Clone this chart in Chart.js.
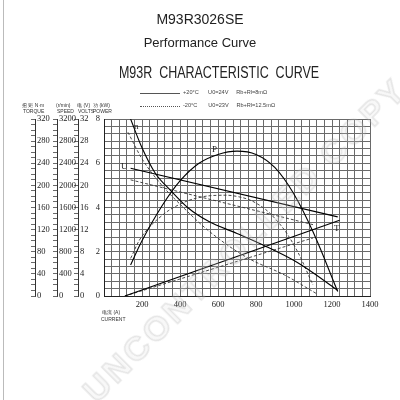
<!DOCTYPE html>
<html>
<head>
<meta charset="utf-8">
<script src="https://cdn.jsdelivr.net/npm/chart.js@4.4.1/dist/chart.umd.min.js"></script>
<style>
  body { margin: 0; background: #fff; }
  #wrap { position: relative; width: 400px; height: 400px; overflow: hidden; font-family: "Liberation Sans", Arial, sans-serif; color: #222; }
  #chart { position: absolute; left: 0; top: 0; }
  .t { position: absolute; white-space: nowrap; }
  .tiny { font-size: 5px; line-height: 6px; color: #333; }
  .note { font-size: 5.6px; line-height: 7px; color: #444; }
  .lbl { font-family: "Liberation Serif", serif; font-size: 9px; color: #222; }
  .leg { position: absolute; left: 140px; width: 40px; height: 0; }
  #head { position: absolute; left: 19px; width: 400px; top: 64px; text-align: center; font-size: 16px; transform: scaleX(0.78); transform-origin: 200px 0; white-space: nowrap; }
  #mark { position: absolute; left: 245px; top: 240px; transform: translate(-50%, -50%) rotate(-45deg);
          font: bold 34px "Liberation Sans", Arial, sans-serif; letter-spacing: 3px; color: rgba(220,220,220,0.2);
          -webkit-text-stroke: 1.5px rgba(160,160,160,0.25); filter: blur(0.7px); white-space: nowrap; }
  #frame { position: absolute; left: 3px; top: 0; width: 1px; height: 400px; background: #bbb; }
</style>
</head>
<body>
<div id="wrap">
  <canvas id="chart" width="400" height="400"></canvas>
  <div id="frame"></div>

  <div class="t" style="left:0;width:400px;text-align:center;top:11px;font-size:14px">M93R3026SE</div>
  <div class="t" style="left:0;width:400px;text-align:center;top:35px;font-size:13px">Performance Curve</div>
  <div id="head">M93R&nbsp; CHARACTERISTIC&nbsp; CURVE</div>

  <div class="leg" style="top:93px;border-top:1px solid #555"></div>
  <div class="t note" style="left:183px;top:89px">+20°C&nbsp;&nbsp;&nbsp;&nbsp;&nbsp; U0=24V&nbsp;&nbsp;&nbsp;&nbsp; Rb+Rl=8mΩ</div>
  <div class="leg" style="top:106px;border-top:1px dotted #555"></div>
  <div class="t note" style="left:183px;top:102px">-20°C&nbsp;&nbsp;&nbsp;&nbsp;&nbsp;&nbsp; U0=23V&nbsp;&nbsp;&nbsp;&nbsp; Rb+Rl=12.5mΩ</div>

  <div class="t tiny" style="left:22px;top:102px">扭 矩 N·m</div>
  <div class="t tiny" style="left:23px;top:108px">TORQUE</div>
  <div class="t tiny" style="left:56px;top:102px">(r/min)</div>
  <div class="t tiny" style="left:57px;top:108px">SPEED</div>
  <div class="t tiny" style="left:77px;top:102px">电 (V)</div>
  <div class="t tiny" style="left:78px;top:108px">VOLTS</div>
  <div class="t tiny" style="left:93px;top:102px">功 (kW)</div>
  <div class="t tiny" style="left:93px;top:108px">POWER</div>
  <div class="t tiny" style="left:102px;top:309px">电流 (A)</div>
  <div class="t tiny" style="left:101px;top:316px">CURRENT</div>

  <div class="t lbl" style="left:134px;top:121px">n</div>
  <div class="t lbl" style="left:121px;top:161px">U</div>
  <div class="t lbl" style="left:212px;top:144px">P</div>
  <div class="t lbl" style="left:334px;top:223px">T</div>

  <div id="mark">UNCONTROLLED COPY</div>
</div>

<script>
// current (A) on the x axis, readings per curve
const currentN = [140, 200, 270, 350, 440, 550, 700, 850, 1000, 1100, 1230];
const speedSolid = [3200, 2680, 2220, 1910, 1600, 1350, 1130, 900, 640, 420, 100];
const currentNd = [126, 200, 300, 400, 550, 750, 950, 1120];
const speedDashed = [2960, 2480, 2020, 1660, 1180, 700, 380, 40];

const currentP = [140, 200, 300, 400, 500, 600, 700, 800, 900, 1000, 1100, 1230];
const powerSolid = [1.4, 2.5, 4.0, 5.2, 6.0, 6.4, 6.55, 6.4, 5.8, 4.6, 2.9, 0.2];
const currentPd = [140, 200, 300, 400, 500, 600, 700, 800, 900, 1000, 1100];
const powerDashed = [1.7, 2.7, 3.6, 4.15, 4.45, 4.55, 4.5, 4.2, 3.5, 2.3, 0.5];

const currentU = [140, 1230];
const voltSolid = [23.1, 14.3];
const currentUd = [140, 1100];
const voltDashed = [21.0, 12.9];

const currentT = [110, 1240];
const torqueSolid = [0, 137];
const currentTd = [110, 1100];
const torqueDashed = [0, 105];

function pts(xs, ys) {
  return xs.map((x, i) => ({ x: x, y: ys[i] }));
}
function steps(min, max, step) {
  const out = [];
  for (let i = 0; min + i * step <= max + 1e-9; i++) out.push({ value: min + i * step });
  return out;
}

const solid = { borderColor: '#000', borderWidth: 1.1, pointRadius: 0 };
const dashed = { borderColor: '#333', borderWidth: 0.9, borderDash: [3, 2], pointRadius: 0 };
const serif = { family: 'Liberation Serif', size: 8.5 };

function sideAxis(weight, max, step, every, width) {
  return {
    type: 'linear', position: 'left', weight: weight, min: 0, max: max,
    afterBuildTicks: s => { s.ticks = steps(0, max, step); },
    afterFit: s => { s.width = width; },
    grid: { drawOnChartArea: false, tickLength: 4, color: '#444', lineWidth: 0.8 },
    border: { color: '#333', width: 1 },
    ticks: { mirror: true, padding: 2, autoSkip: false, color: '#222', font: serif,
             callback: v => (Math.round(v) % every === 0 ? Math.round(v) : '') }
  };
}

new Chart(document.getElementById('chart'), {
  type: 'line',
  data: {
    datasets: [
      Object.assign({ data: pts(currentN, speedSolid), yAxisID: 'yN', cubicInterpolationMode: 'monotone' }, solid),
      Object.assign({ data: pts(currentNd, speedDashed), yAxisID: 'yN', cubicInterpolationMode: 'monotone' }, dashed),
      Object.assign({ data: pts(currentP, powerSolid), yAxisID: 'yP', tension: 0.4 }, solid),
      Object.assign({ data: pts(currentPd, powerDashed), yAxisID: 'yP', tension: 0.4 }, dashed),
      Object.assign({ data: pts(currentU, voltSolid), yAxisID: 'yU' }, solid),
      Object.assign({ data: pts(currentUd, voltDashed), yAxisID: 'yU' }, dashed),
      Object.assign({ data: pts(currentT, torqueSolid), yAxisID: 'yT' }, solid),
      Object.assign({ data: pts(currentTd, torqueDashed), yAxisID: 'yT' }, dashed)
    ]
  },
  options: {
    responsive: false,
    animation: false,
    devicePixelRatio: 1,
    layout: { padding: { left: 10, top: 119, right: 30, bottom: 84 } },
    plugins: { legend: { display: false }, tooltip: { enabled: false } },
    scales: {
      x: {
        type: 'linear', position: 'bottom', min: 0, max: 1400,
        afterBuildTicks: s => { s.ticks = steps(0, 1400, 40); },
        afterFit: s => { s.height = 20; },
        grid: { color: '#6a6a6a', lineWidth: 1, drawTicks: false },
        border: { color: '#222', width: 1 },
        ticks: { autoSkip: false, maxRotation: 0, padding: 4, color: '#222', font: serif,
                 callback: v => (v > 0 && v % 200 === 0 ? v : '') }
      },
      yP: {
        type: 'linear', position: 'left', weight: 0, min: 0, max: 8,
        afterBuildTicks: s => { s.ticks = steps(0, 8, 1 / 3); },
        afterFit: s => { s.width = 26; },
        grid: { color: '#6a6a6a', lineWidth: 1, drawTicks: false },
        border: { color: '#222', width: 1 },
        ticks: { autoSkip: false, padding: 4, color: '#222', font: serif,
                 callback: (v, i) => (i % 6 === 0 ? i / 3 : '') }
      },
      yU: sideAxis(1, 32, 1, 4, 21),
      yN: sideAxis(2, 3200, 100, 400, 22),
      yT: sideAxis(3, 320, 10, 40, 25)
    }
  }
});
</script>
</body>
</html>
